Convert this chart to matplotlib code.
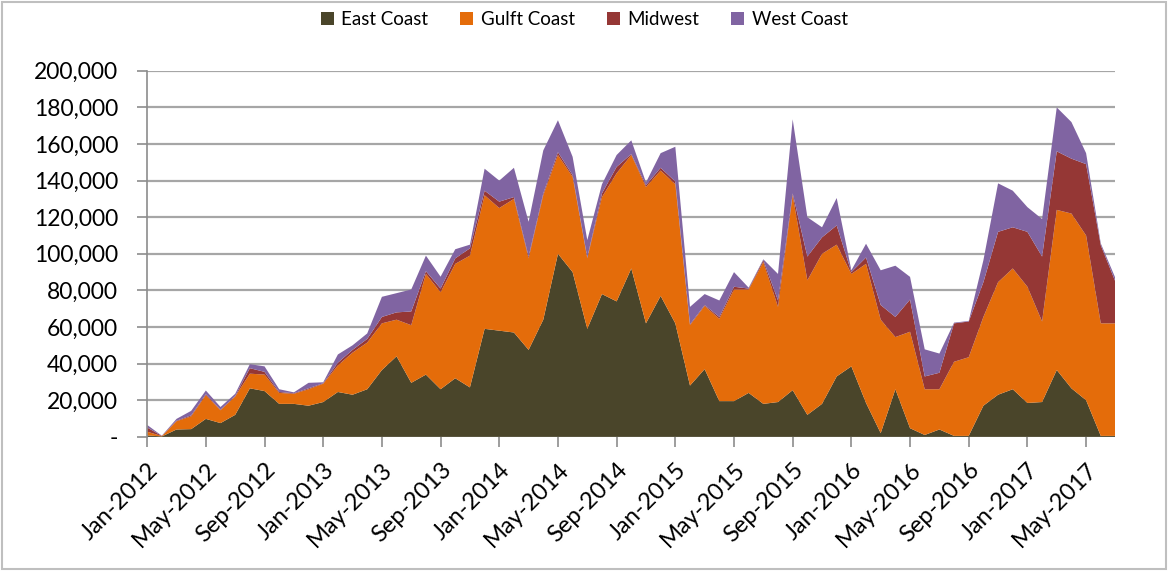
import matplotlib
matplotlib.use("Agg")
from matplotlib import pyplot as plt
from matplotlib.patches import Patch, Rectangle
from matplotlib.ticker import FuncFormatter
import numpy as np

plt.rcParams['font.family'] = ['Lato', 'DejaVu Sans']

# monthly, Jan-2012 .. Jul-2017
months = ['Jan', 'Feb', 'Mar', 'Apr', 'May', 'Jun', 'Jul', 'Aug', 'Sep', 'Oct', 'Nov', 'Dec']
labels = ['%s-%d' % (months[i % 12], 2012 + i // 12) for i in range(67)]

east = [800, 200, 4000, 4200, 9800, 7500, 12000, 26500, 25000, 18000, 18000, 17000,
        19000, 24500, 23000, 26000, 36500, 44000, 29500, 34000, 26000, 32000, 27000, 59000,
        58000, 57000, 47500, 64000, 100000, 90000, 59000, 78000, 74000, 92000, 62000, 77000,
        62000, 28000, 37000, 19500, 19500, 24000, 18000, 19000, 25500, 12000, 18000, 33000,
        38500, 18500, 2000, 26000, 4700, 1000, 4000, 500, 500, 17000, 23000, 26000,
        18500, 19000, 36500, 26500, 20000, 500, 500]
gulf = [2000, 200, 4500, 7000, 13000, 7000, 10000, 8000, 9000, 6000, 5500, 9000,
        10000, 14500, 23000, 25500, 25500, 20000, 31500, 55000, 53000, 62500, 72000, 73000,
        67000, 73000, 50000, 68000, 54000, 52000, 38500, 53000, 70000, 62000, 74500, 68500,
        76000, 33000, 34500, 45000, 61000, 56500, 77500, 52000, 106500, 73500, 82000, 72000,
        50500, 76000, 62000, 28500, 52700, 25000, 22000, 40500, 43000, 48500, 61500, 66000,
        63500, 44000, 87500, 95500, 90000, 61500, 61500]
midwest = [2300, 100, 300, 500, 500, 300, 300, 3000, 1500, 500, 300, 500,
           300, 1500, 1500, 2000, 3500, 4000, 7500, 1500, 2000, 3000, 4000, 2500,
           3500, 1000, 1000, 1000, 1500, 1000, 500, 2000, 3500, 500, 1000, 1500,
           1500, 500, 500, 1000, 1500, 500, 1000, 3500, 1000, 13000, 9000, 10500,
           1000, 3500, 8000, 11000, 17600, 7000, 9000, 21000, 19500, 19000, 27500, 22500,
           30000, 35500, 32000, 30000, 39000, 42700, 22700]
west = [1400, 100, 1000, 2500, 2000, 1500, 1200, 2200, 3000, 1500, 500, 3000,
        500, 4500, 2500, 3000, 11000, 10500, 12000, 8500, 6500, 5000, 2000, 12000,
        11500, 16000, 19000, 23500, 17500, 10000, 9500, 5000, 6500, 7500, 1500, 8000,
        19000, 9500, 6000, 9000, 8000, 500, 500, 14500, 40500, 21500, 5500, 15000,
        1000, 7500, 19000, 28000, 12400, 14800, 10500, 400, 300, 12000, 26500, 20000,
        13500, 20500, 24000, 20000, 6000, 1000, 2000]

names = ['East Coast', 'Gulft Coast', 'Midwest', 'West Coast']
colors = ['#4a452a', '#e46c0a', '#953735', '#8064a2']

fig = plt.figure(figsize=(11.68, 5.71), dpi=100)
ax = fig.add_axes([0.126, 0.235, 0.829, 0.641])

x = np.arange(len(labels))
ax.stackplot(x, east, gulf, midwest, west, colors=colors, linewidth=0)

ax.set_xlim(0, len(labels) - 1)
ax.set_ylim(0, 200000)
ax.set_yticks(np.arange(0, 200001, 20000))
ax.yaxis.set_major_formatter(FuncFormatter(lambda v, p: '-' if v == 0 else '{:,.0f}'.format(v)))
ax.grid(axis='y', color='#a6a6a6', linewidth=1.6)
ax.set_axisbelow(True)

ticks = list(range(0, len(labels), 4))
ax.set_xticks(ticks)
ax.set_xticklabels([labels[i] for i in ticks], rotation=45, ha='right',
                   rotation_mode='anchor', fontsize=17)
ax.tick_params(axis='y', labelsize=16.5, length=7, width=1.2, color='#8c8c8c', pad=14)
ax.tick_params(axis='x', length=7, width=1.2, color='#8c8c8c', pad=9)

for s in ['top', 'right', 'bottom']:
    ax.spines[s].set_visible(False)
ax.spines['left'].set_color('#8c8c8c')
ax.spines['left'].set_linewidth(1.2)

handles = [Patch(facecolor=c, label=n) for c, n in zip(colors, names)]
fig.legend(handles=handles, loc='center', bbox_to_anchor=(0.5, 0.966), ncol=4,
           frameon=False, fontsize=13.5, handlelength=0.7, handleheight=0.7,
           handletextpad=0.4, columnspacing=1.7)

fig.patches.append(Rectangle((0.002, 0.004), 0.996, 0.992, transform=fig.transFigure,
                             fill=False, edgecolor='#bfbfbf', linewidth=1.5))

fig.savefig('out.png', dpi=100)
